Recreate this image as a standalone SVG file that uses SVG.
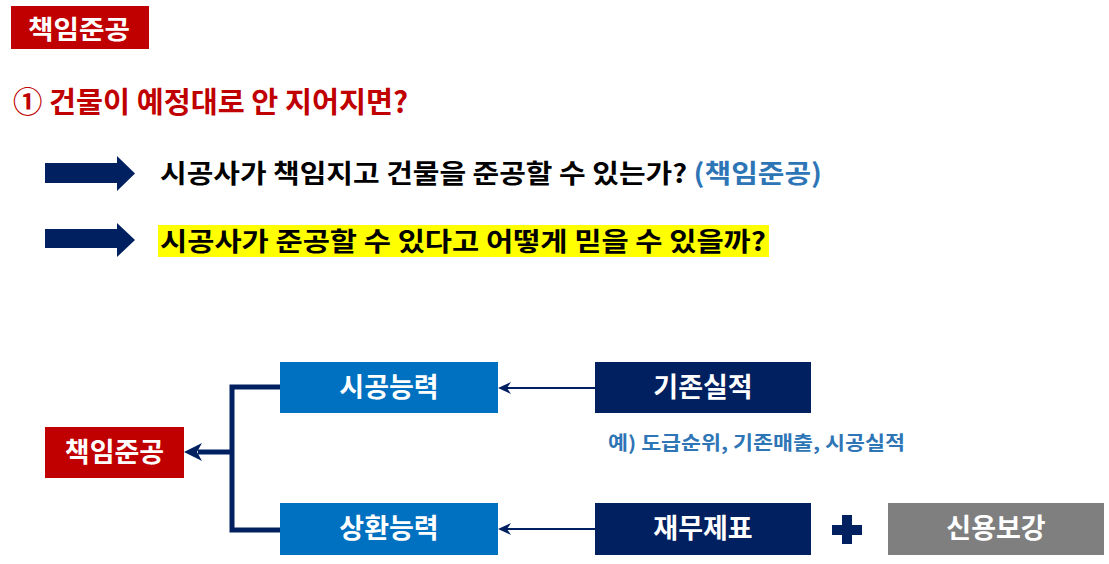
<svg xmlns="http://www.w3.org/2000/svg" width="1109" height="564" viewBox="0 0 1109 564">
<style>
text{font-family:"Noto Sans CJK KR","Noto Sans",sans-serif;font-weight:700}
.w{fill:#fff;font-size:27px}
.c{text-anchor:middle}
.big{font-size:26px;fill:#000}
</style>
<rect width="1109" height="564" fill="#fff"/>
<g id="badge"><rect x="11" y="6" width="138" height="43" fill="#C00000"/><text x="28" y="39" font-size="26" fill="#fff" textLength="102" lengthAdjust="spacingAndGlyphs">책임준공</text></g>
<text x="13" y="113" font-size="29" fill="#C00000" textLength="395" lengthAdjust="spacingAndGlyphs">① 건물이 예정대로 안 지어지면?</text>
<g id="arrows-top" fill="#002060">
<polygon points="45,163 117,163 117,156 135,173.5 117,191 117,183 45,183"/>
<polygon points="45,229 117,229 117,223 135,240 117,257 117,248 45,248"/>
</g>
<text class="big" x="160" y="183" textLength="662" lengthAdjust="spacingAndGlyphs">시공사가 책임지고 건물을 준공할 수 있는가? <tspan fill="#2E75B6">(책임준공)</tspan></text>
<rect x="158" y="225" width="611" height="32" fill="#FFFF00"/>
<text class="big" x="160" y="251" textLength="606" lengthAdjust="spacingAndGlyphs">시공사가 준공할 수 있다고 어떻게 믿을 수 있을까?</text>
<g id="connectors">
<path d="M280,387 H232 V530 H280" fill="none" stroke="#002060" stroke-width="5"/>
<path d="M232,452 H198" fill="none" stroke="#002060" stroke-width="5"/>
<polygon points="184,452 202,443 197,452 202,461" fill="#002060"/>
<path d="M595,388 H506" fill="none" stroke="#002060" stroke-width="2"/>
<polygon points="498,388 511,382 507,388 511,394" fill="#002060"/>
<path d="M595,529 H506" fill="none" stroke="#002060" stroke-width="2"/>
<polygon points="498,529 511,523 507,529 511,535" fill="#002060"/>
</g>
<g id="n-chaegim"><rect x="45" y="427" width="139" height="51" fill="#C00000"/><text class="w c" x="114.5" y="462">책임준공</text></g>
<g id="n-sigong"><rect x="280" y="362" width="218" height="51" fill="#0070C0"/><text class="w c" x="389" y="397">시공능력</text></g>
<g id="n-sanghwan"><rect x="280" y="503" width="218" height="52" fill="#0070C0"/><text class="w c" x="389" y="538">상환능력</text></g>
<g id="n-gijon"><rect x="595" y="362" width="216" height="51" fill="#002060"/><text class="w c" x="703" y="397">기존실적</text></g>
<text x="608" y="450" font-size="19" fill="#2E75B6" textLength="297" lengthAdjust="spacingAndGlyphs">예) 도급순위, 기존매출, 시공실적</text>
<g id="n-jaemu"><rect x="595" y="503" width="216" height="52" fill="#002060"/><text class="w c" x="703" y="538">재무제표</text></g>
<g id="plus" fill="#002060"><rect x="842" y="515" width="10" height="29"/><rect x="832" y="525" width="30" height="10"/></g>
<g id="n-sinyong"><rect x="888" y="503" width="216" height="52" fill="#7F7F7F"/><text class="w c" x="996" y="538">신용보강</text></g>
</svg>
